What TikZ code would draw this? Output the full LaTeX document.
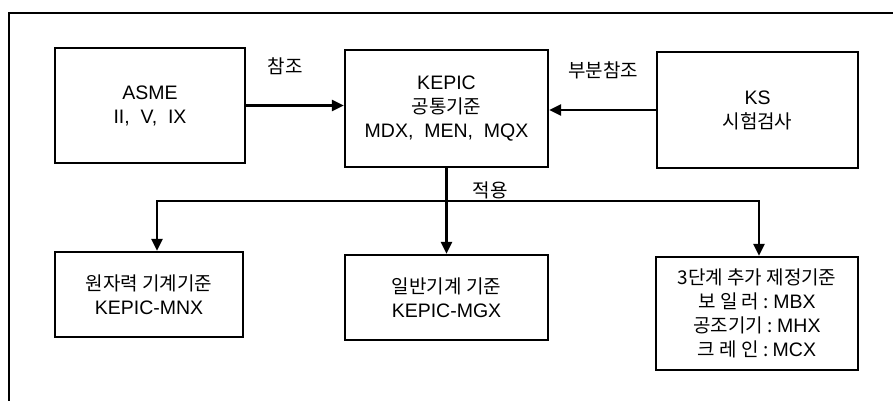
\documentclass[tikz,border=0pt]{standalone}
\usepackage{fontspec}
\setmainfont{Liberation Sans}
\newfontfamily\kr{Noto Sans CJK KR}
\newcommand\krt[1]{{\kr\fontsize{19}{24}\selectfont #1}}
\usetikzlibrary{arrows.meta}
\begin{document}
\begin{tikzpicture}[x=1pt,y=-1pt,
  box/.style={draw,line width=2.4pt,rectangle,align=center,inner sep=0pt,
    font=\fontsize{19.5}{24}\selectfont},
  lbl/.style={font=\fontsize{19}{20}\selectfont\kr,inner sep=0pt},
  conn/.style={line width=2.6pt},
  arr/.style={conn,-{Triangle[length=12pt,width=11pt]}},
  frame/.style={line width=1.2pt}]
\useasboundingbox (0,0) rectangle (893,401);
\draw[frame] (9,420) -- (9,13) -- (910,13);
\node[box,minimum width=190pt,minimum height=115pt] (asme) at (150,105.5) {ASME\\II,\ \ V,\ \ IX};
\node[box,minimum width=203pt,minimum height=117pt] (kepic) at (446.5,108.5) {KEPIC\\\krt{공통기준}\\MDX,\ \ MEN,\ \ MQX};
\node[box,minimum width=201pt,minimum height=116pt] (ks) at (757.5,110) {KS\\\krt{시험검사}};
\node[box,minimum width=188pt,minimum height=85pt] (mnx) at (149,294.5) {\krt{원자력 기계기준}\\KEPIC-MNX};
\node[box,minimum width=203pt,minimum height=85pt] (mgx) at (446.5,297.5) {\krt{일반기계 기준}\\KEPIC-MGX};
\node[box,minimum width=202pt,minimum height=113pt] (add) at (757,313.5) {\krt{3단계 추가 제정기준}\\\krt{보\ 일\ 러\ :\ }MBX\\\krt{공조기기\ :\ }MHX\\\krt{크\ 레\ 인\ :\ }MCX};
\node[lbl] (l1) at (285,66) {참조};
\node[lbl] (l2) at (603,70) {부분참조};
\node[lbl] (l3) at (490,190) {적용};
\draw[arr] (asme.east) -- (asme.east -| kepic.west);
\draw[arr] (ks.west) -- (ks.west -| kepic.east);
\coordinate (j) at (kepic.south |- 0,201);
\coordinate (jl) at (157,201);
\coordinate (jr) at (759,201);
\draw[conn] (kepic.south) -- (j);
\draw[conn,line cap=rect] (jl) -- (jr);
\draw[arr] (jl) -- (jl |- mnx.north);
\draw[arr] (j) -- (mgx.north);
\draw[arr] (jr) -- (jr |- add.north);
\end{tikzpicture}
\end{document}
